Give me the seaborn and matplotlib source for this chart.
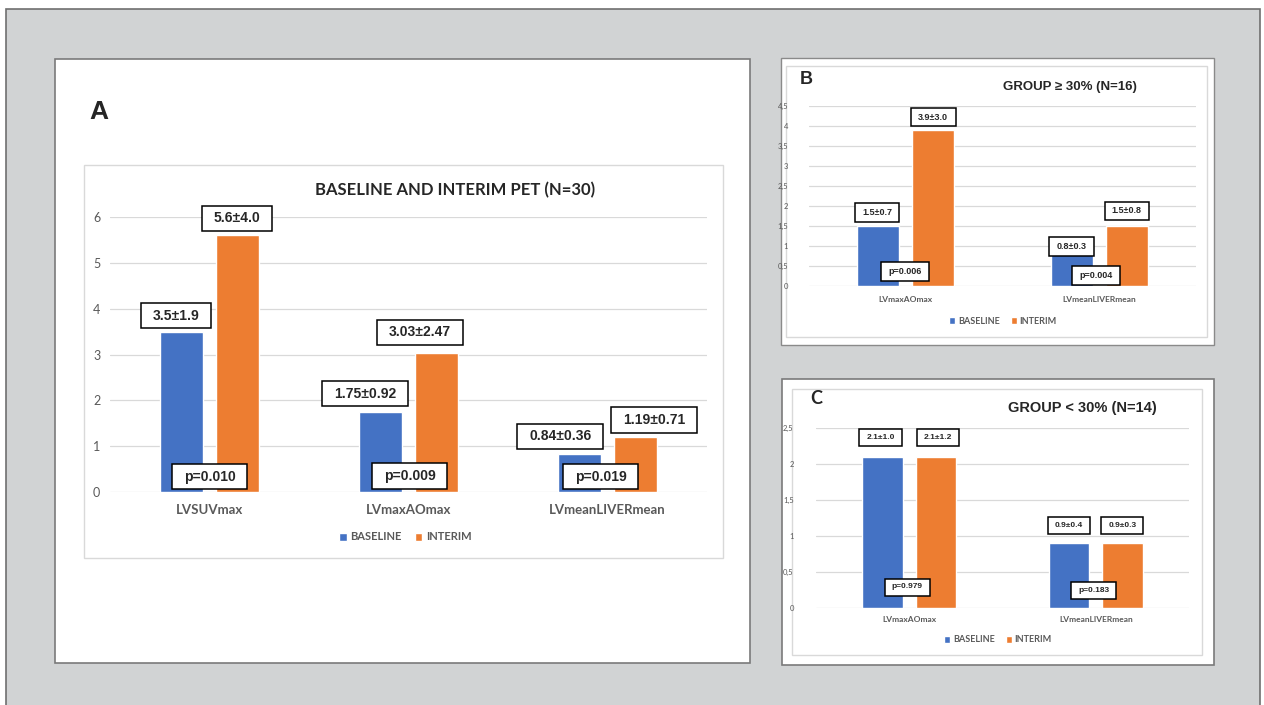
from functools import partial

import matplotlib.pyplot as plt
import pandas as pd
import seaborn as sns
from matplotlib.patches import Rectangle
from matplotlib.path import Path

# ---- data ----
phases = ["BASELINE", "INTERIM"]

cats_a = ["LVSUVmax", "LVmaxAOmax", "LVmeanLIVERmean"]
base_a = [3.5, 1.75, 0.84]
inter_a = [5.6, 3.03, 1.19]
base_lab_a = ["3.5±1.9", "1.75±0.92", "0.84±0.36"]
inter_lab_a = ["5.6±4.0", "3.03±2.47", "1.19±0.71"]
p_a = ["p=0.010", "p=0.009", "p=0.019"]

cats_b = ["LVmaxAOmax", "LVmeanLIVERmean"]
base_b = [1.5, 0.8]
inter_b = [3.9, 1.5]
base_lab_b = ["1.5±0.7", "0.8±0.3"]
inter_lab_b = ["3.9±3.0", "1.5±0.8"]
p_b = ["p=0.006", "p=0.004"]

cats_c = ["LVmaxAOmax", "LVmeanLIVERmean"]
base_c = [2.1, 0.9]
inter_c = [2.1, 0.9]
base_lab_c = ["2.1±1.0", "0.9±0.4"]
inter_lab_c = ["2.1±1.2", "0.9±0.3"]
p_c = ["p=0.979", "p=0.183"]

ticks_a = [0, 1, 2, 3, 4, 5, 6]
ticks_b = [0, 0.5, 1, 1.5, 2, 2.5, 3, 3.5, 4, 4.5]
ticks_c = [0, 0.5, 1, 1.5, 2, 2.5]

BLUE = "#4472C4"
ORANGE = "#ED7D31"
GRID = "#D9D9D9"
TXT = "#595959"
BOXFONT = ["Liberation Sans", "DejaVu Sans"]

W, H = 1264, 705
PT = 0.72  # points per pixel at dpi 100

sns.set_style("white")
plt.rcParams["font.family"] = ["Lato", "DejaVu Sans"]

fig = plt.figure(figsize=(W / 100, H / 100), dpi=100)
fig.patch.set_facecolor("white")


def box(x0, y0, x1, y1):
    return [x0 / W, 1 - y1 / H, (x1 - x0) / W, (y1 - y0) / H]


def rect(x0, y0, x1, y1, fc, ec, lw=1.0, z=-5):
    r = Rectangle((x0 / W, 1 - y1 / H), (x1 - x0) / W, (y1 - y0) / H,
                  transform=fig.transFigure, facecolor=fc, edgecolor=ec,
                  linewidth=lw, zorder=z)
    fig.add_artist(r)


def label_box(x0, y0, width, height, mutation_size, padx=0.9, pady=0.4):
    # square box with separate horizontal / vertical padding
    px, py = padx * mutation_size, pady * mutation_size
    l, r, b, t = x0 - px, x0 + width + px, y0 - py, y0 + height + py
    return Path([(l, b), (r, b), (r, t), (l, t), (l, b)], closed=True)


# background and panels
rect(6, 9, 1260, 712, "#D1D3D4", "#6F6F6F", 1.2, -10)
rect(55, 59, 750, 663, "white", "#7A7A7A", 1.2, -9)
rect(84, 165, 723, 558, "white", GRID, 1.0, -8)
rect(781, 58, 1214, 345, "white", "#8A8A8A", 1.0, -9)
rect(786, 66, 1207, 337, "white", GRID, 1.0, -8)
rect(782, 379, 1214, 665, "white", "#7A7A7A", 1.2, -9)
rect(792, 389, 1202, 655, "white", GRID, 1.0, -8)


def panel(rect_px, cats, base, inter, base_lab, inter_lab, pvals, ticks,
          fs_tick, fs_box, fs_x, ypad, xpad, leg_xy, leg_fs, pads,
          dx_base, dx_inter, dy_base, dy_inter, p_dx, p_dy):
    ax = fig.add_axes(box(*rect_px))
    df = pd.DataFrame({
        "metric": cats * 2,
        "phase": [phases[0]] * len(cats) + [phases[1]] * len(cats),
        "value": base + inter,
    })
    sns.barplot(data=df, x="metric", y="value", hue="phase",
                palette=[BLUE, ORANGE], width=0.57, gap=0.24,
                saturation=1, ax=ax)
    ax.set_facecolor("none")
    ax.set_ylim(ticks[0], ticks[-1])
    ax.set_yticks(ticks)
    ax.set_yticklabels([f"{t:g}".replace(".", ",") for t in ticks])
    ax.set_xlabel("")
    ax.set_ylabel("")
    for s in ax.spines.values():
        s.set_visible(False)
    ax.grid(axis="y", color=GRID, linewidth=0.9)
    ax.set_axisbelow(True)
    ax.tick_params(axis="y", length=0, pad=ypad, labelsize=fs_tick,
                   labelcolor=TXT)
    ax.tick_params(axis="x", length=0, pad=xpad, labelsize=fs_x,
                   labelcolor=TXT)
    for lbl in ax.get_xticklabels():
        lbl.set_fontweight("bold")

    bbox = dict(boxstyle=partial(label_box, padx=pads[0], pady=pads[1]),
                facecolor="white", edgecolor="black", linewidth=1.1)
    groups = [(base_lab, dx_base, dy_base), (inter_lab, dx_inter, dy_inter)]
    for cont, (labs, dxs, dys) in zip(ax.containers, groups):
        for bar, lab, dx, dy in zip(cont, labs, dxs, dys):
            cx = bar.get_x() + bar.get_width() / 2
            ax.annotate(lab, xy=(cx, bar.get_height()),
                        xytext=(dx * PT, dy * PT), textcoords="offset points",
                        ha="center", va="center", fontsize=fs_box,
                        fontweight="bold", family=BOXFONT, bbox=bbox,
                        annotation_clip=False, zorder=5)
    for i, (p, dx, dy) in enumerate(zip(pvals, p_dx, p_dy)):
        ax.annotate(p, xy=(i, 0), xytext=(dx * PT, dy * PT),
                    textcoords="offset points", ha="center", va="center",
                    fontsize=fs_box, fontweight="bold", family=BOXFONT,
                    bbox=bbox, annotation_clip=False, zorder=5)

    sns.move_legend(ax, "center",
                    bbox_to_anchor=(leg_xy[0] / W, 1 - leg_xy[1] / H),
                    bbox_transform=fig.transFigure, ncol=2, frameon=False,
                    title=None, fontsize=leg_fs, handlelength=0.7,
                    handleheight=0.7, handletextpad=0.3, columnspacing=1.2)
    for t in ax.get_legend().get_texts():
        t.set_color(TXT)
        t.set_fontweight("bold")
    return ax


panel((110, 217, 707, 492), cats_a, base_a, inter_a, base_lab_a, inter_lab_a,
      p_a, ticks_a, 9, 10, 9.5, 7, 9, (405, 537), 8, (0.85, 0.4),
      [-5, -15, -19], [-1, -17, 18], [16, 18, 17], [17, 21, 17.5],
      [0, 1, -7], [15.5, 16, 15.3])
panel((809, 106, 1196, 286), cats_b, base_b, inter_b, base_lab_b, inter_lab_b,
      p_b, ticks_b, 5.5, 6.5, 6, 15, 7, (1003, 321), 6.5, (0.8, 0.55),
      [-1, 0], [0, 0], [13.5, 7.5], [13, 15], [-1, -3], [14.5, 10.5])
panel((816, 428, 1189, 608), cats_c, base_c, inter_c, base_lab_c, inter_lab_c,
      p_c, ticks_c, 5.5, 6, 6, 16, 6, (998, 640), 6.5, (0.85, 0.6),
      [-2, 0], [2, 0], [19.5, 17.5], [19, 17.5], [-2, -2], [21, 17.5])

# titles and panel letters
fig.text(455 / W, 1 - 190 / H, "BASELINE AND INTERIM PET (N=30)",
         ha="center", va="center", fontsize=12, fontweight="bold")
fig.text(99 / W, 1 - 112 / H, "A", ha="center", va="center",
         fontsize=19, fontweight="bold", family=BOXFONT)
fig.text(1070 / W, 1 - 87 / H, "GROUP ≥ 30% (N=16)", ha="center",
         va="center", fontsize=9.5, fontweight="bold", family=BOXFONT)
fig.text(806 / W, 1 - 79 / H, "B", ha="center", va="center",
         fontsize=13, fontweight="bold", family=BOXFONT)
fig.text(1082 / W, 1 - 408 / H, "GROUP < 30% (N=14)", ha="center",
         va="center", fontsize=10.5, fontweight="bold", family=BOXFONT)
fig.text(816 / W, 1 - 399 / H, "C", ha="center", va="center",
         fontsize=13, fontweight="bold")

fig.savefig("out.png", dpi=100)
